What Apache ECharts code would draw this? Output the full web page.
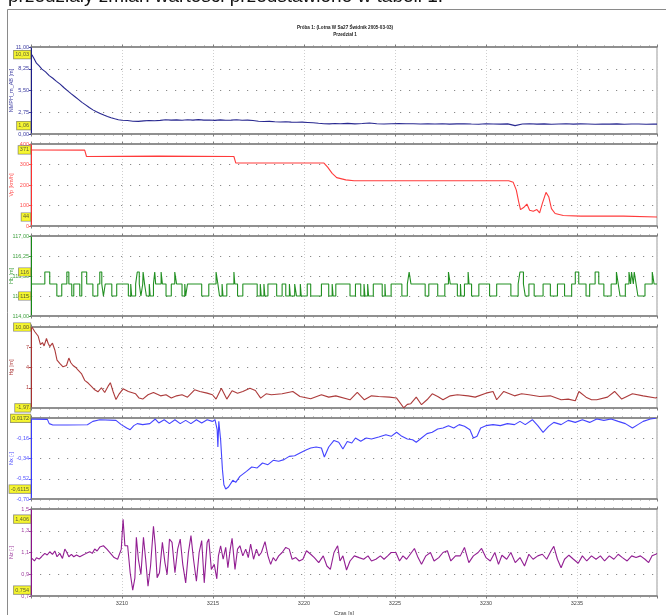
<!DOCTYPE html>
<html><head><meta charset="utf-8">
<script src="https://cdn.jsdelivr.net/npm/echarts@6/dist/echarts.min.js"></script>
<style>html,body{margin:0;padding:0;background:#fff;}#c{width:666px;height:615px;}</style>
</head><body><div id="c"></div>
<script>
// ---------- DATA ----------
const headerText = 'przedziały zmian wartości przedstawiono w tabeli 1.';
const titleLine1 = 'Próba 1: (Lotna W Sa27 Świdnik 2005-03-03)';
const titleLine2 = 'Przedział 1';
const xAxisName = 'Czas [s]';
const timeMin = 3205, timeMax = 3239.4, timeStep = 5;

const panelNames = ['NMPH_m_AB [m]', 'Vp [km/h]', 'Hb [m]', 'Hg [m]', 'Nx [-]', 'Nz [-]'];

// Panel 1
const p1T = [3205.05,3205.15,3205.3,3205.45,3205.6,3205.8,3206.0,3206.2,3206.4,3206.6,3206.8,3207.0,3207.2,3207.4,3207.6,3207.8,3208.0,3208.2,3208.4,3208.6,3208.8,3209.0,3209.2,3209.4,3209.6,3209.8,3210.0,3210.3,3210.6,3210.9,3211.2,3211.5,3211.8,3212.1,3212.4,3212.7,3213.0,3213.3,3213.6,3213.9,3214.2,3214.5,3214.8,3215.1,3215.4,3215.7,3216.0,3216.3,3216.6,3216.9,3217.2,3217.5,3217.8,3218.1,3218.4,3218.7,3219.0,3219.3,3219.6,3219.9,3220.2,3220.5,3220.8,3221.1,3221.4,3221.7,3222.0,3222.4,3222.8,3223.2,3223.6,3224.0,3224.4,3224.8,3225.2,3225.6,3226.0,3226.4,3226.8,3227.2,3227.6,3228.0,3228.4,3228.8,3229.2,3229.6,3230.0,3230.4,3230.8,3231.2,3231.6,3232.0,3232.4,3232.8,3233.2,3233.6,3234.0,3234.4,3234.8,3235.2,3235.6,3236.0,3236.4,3236.8,3237.2,3237.6,3238.0,3238.4,3238.8,3239.2,3239.4];
const p1V = [10.03,9.6,8.95,8.6,8.2,7.85,7.38,7.05,6.66,6.3,5.88,5.48,5.1,4.74,4.38,4.0,3.68,3.35,3.05,2.8,2.6,2.4,2.22,2.06,1.92,1.8,1.74,1.7,1.62,1.6,1.66,1.7,1.68,1.72,1.8,1.75,1.78,1.74,1.8,1.76,1.82,1.75,1.77,1.72,1.78,1.74,1.76,1.8,1.73,1.75,1.7,1.62,1.58,1.6,1.55,1.52,1.55,1.5,1.48,1.5,1.46,1.42,1.35,1.3,1.28,1.32,1.3,1.34,1.28,1.32,1.4,1.3,1.27,1.3,1.32,1.29,1.3,1.26,1.3,1.27,1.3,1.25,1.28,1.3,1.26,1.24,1.3,1.27,1.25,1.28,1.06,1.26,1.29,1.25,1.28,1.24,1.27,1.3,1.25,1.28,1.26,1.24,1.27,1.25,1.28,1.24,1.26,1.27,1.24,1.26,1.25];

// Panel 2
const p2T = [3205.05,3207.95,3208.05,3212.0,3216.15,3216.25,3221.1,3221.3,3221.55,3221.8,3222.3,3222.75,3231.25,3231.5,3231.67,3231.8,3231.9,3232.07,3232.25,3232.4,3232.6,3232.8,3232.95,3233.1,3233.3,3233.45,3233.6,3233.8,3234.25,3235.2,3237.55,3239.4];
const p2V = [371,370,339,341,339,308,307,287,257,236,225,221,221,213,175,118,80,90,107,77,72,80,64,110,164,143,85,61,51,48,48,44];

// Panel 3 (step signal: value holds until next time)
const p3T = [3205.05,3205.76,3206.03,3206.42,3206.69,3206.97,3207.08,3207.24,3207.35,3207.68,3207.79,3208.06,3208.4,3208.67,3208.78,3208.89,3208.98,3209.08,3209.44,3209.71,3210.35,3210.48,3210.53,3210.75,3210.84,3210.95,3211.04,3211.14,3211.16,3211.24,3211.34,3211.5,3211.55,3211.73,3211.8,3211.85,3212.15,3212.22,3212.42,3212.71,3212.9,3213.0,3213.3,3213.45,3213.5,3213.6,3214.38,3214.77,3215.17,3215.27,3215.36,3215.5,3215.55,3215.76,3216.15,3216.2,3216.35,3216.64,3217.43,3217.6,3217.65,3217.8,3217.85,3218.02,3218.5,3218.8,3219.0,3219.2,3219.25,3219.49,3219.59,3219.8,3219.85,3220.18,3220.37,3220.96,3221.36,3221.55,3221.6,3221.75,3222.53,3222.83,3223.12,3223.3,3223.35,3223.5,3223.55,3223.81,3224.3,3224.45,3224.48,3224.79,3225.38,3225.68,3225.78,3225.88,3226.66,3226.86,3227.35,3227.74,3227.94,3228.04,3228.43,3228.6,3228.63,3228.82,3229.02,3229.07,3229.21,3229.61,3230.2,3230.59,3231.37,3231.77,3231.87,3232.06,3232.16,3232.36,3232.65,3233.14,3233.54,3233.93,3234.32,3234.71,3234.91,3235.1,3235.5,3235.7,3236.0,3236.2,3236.48,3236.88,3237.17,3237.27,3237.37,3237.66,3237.86,3237.95,3238.0,3238.1,3238.15,3238.25,3238.35,3238.74,3239.14,3239.24,3239.4];
const p3V = [115.2,115.65,115.2,114.75,115.2,115.65,115.2,114.75,115.2,114.75,115.65,115.2,114.75,115.2,115.65,115.2,114.75,115.2,114.75,115.2,114.75,115.2,114.75,115.2,115.65,115.2,114.75,115.2,115.65,115.2,114.75,115.2,114.75,115.2,115.65,115.2,115.65,115.2,114.75,115.2,115.65,115.2,114.75,115.2,114.75,115.2,114.75,115.2,115.65,115.2,114.75,115.2,114.75,115.2,115.65,115.2,114.75,115.2,114.75,115.2,114.75,115.2,114.75,115.2,114.75,115.2,114.75,115.2,114.75,115.2,114.75,115.2,114.75,115.2,114.75,115.2,114.75,115.2,114.75,115.2,114.75,115.2,114.75,115.2,114.75,115.2,114.75,115.2,114.75,115.2,114.75,115.2,114.75,115.2,115.65,115.2,114.75,115.2,114.75,115.2,115.65,115.2,114.75,115.2,114.75,115.2,115.65,115.2,114.75,115.2,114.75,115.2,114.75,115.2,115.65,115.2,114.75,115.2,114.75,115.2,114.75,115.2,114.75,115.2,115.65,115.2,114.75,115.2,115.65,115.2,114.75,115.2,115.65,115.2,114.75,115.2,115.65,115.2,115.65,115.2,115.65,115.2,114.75,115.2,115.65,115.2,115.2];

// Panel 4
const p4T = [3205.05,3205.21,3205.3,3205.39,3205.52,3205.63,3205.72,3205.85,3205.94,3206.03,3206.18,3206.31,3206.43,3206.58,3206.76,3206.95,3207.08,3207.19,3207.31,3207.46,3207.59,3207.77,3207.95,3208.14,3208.32,3208.5,3208.68,3208.87,3209.05,3209.23,3209.36,3209.51,3209.67,3209.85,3210.06,3210.35,3210.75,3210.94,3211.14,3211.43,3211.73,3212.12,3212.42,3212.71,3213.0,3213.3,3213.6,3213.99,3214.28,3214.68,3214.97,3215.17,3215.46,3215.76,3216.05,3216.35,3216.64,3217.03,3217.33,3217.62,3217.92,3218.21,3218.8,3219.39,3219.78,3220.37,3220.96,3221.36,3221.75,3222.53,3222.93,3223.32,3223.71,3224.11,3224.7,3225.09,3225.48,3225.68,3225.87,3226.17,3226.46,3226.76,3227.05,3227.35,3227.64,3228.04,3228.43,3229.02,3229.41,3230.0,3230.39,3230.59,3230.98,3231.57,3231.96,3232.36,3232.95,3233.54,3234.13,3234.52,3234.91,3235.11,3235.5,3235.8,3236.09,3236.68,3237.07,3237.46,3238.05,3238.64,3239.33,3239.4];
const p4V = [10.0,9.3,9.5,8.67,7.4,7.7,7.2,8.3,7.6,7.1,7.6,6.6,5.1,4.6,4.1,4.3,5.4,4.7,4.3,4.0,3.6,3.1,2.1,1.7,1.2,0.7,0.4,1.0,0.3,1.2,1.75,0.45,-0.75,0.1,0.84,0.45,0.1,-0.53,-0.68,-0.04,0.3,-0.2,-0.04,-0.53,-0.2,-0.04,-0.39,0.69,0.45,0.2,-0.04,-0.68,0.94,-0.68,0.55,0.2,0.45,0.94,0.6,-0.53,0.1,-0.04,0.1,0.45,-0.29,-0.63,-0.04,-0.39,-0.2,-0.78,0.3,-0.78,-0.2,-0.29,-0.39,-0.53,-1.97,-1.46,-1.36,-0.39,-1.51,-0.78,0.1,-0.29,-0.78,-0.2,-0.04,-0.2,-0.39,0.2,0.45,-0.78,0.45,-0.2,0.1,-0.04,-0.29,-0.2,-0.78,-0.68,-0.93,0.45,-0.39,-0.78,-0.78,-0.39,0.45,-0.68,0.1,-0.2,-0.53,-0.4];

// Panel 5
const p5T = [3205.05,3205.9,3206.0,3206.2,3207.0,3208.1,3208.4,3208.78,3209.67,3209.96,3210.26,3210.45,3210.65,3210.84,3211.14,3211.53,3211.83,3212.02,3212.32,3212.61,3212.91,3213.2,3213.5,3213.79,3214.09,3214.38,3214.68,3214.97,3215.11,3215.23,3215.27,3215.32,3215.42,3215.52,3215.6,3215.7,3215.85,3216.09,3216.25,3216.48,3216.84,3217.13,3217.43,3217.72,3218.02,3218.31,3218.61,3218.9,3219.19,3219.49,3219.78,3220.08,3220.37,3220.67,3220.96,3221.12,3221.36,3221.65,3221.91,3222.14,3222.38,3222.63,3222.83,3223.12,3223.42,3223.71,3224.11,3224.5,3224.79,3225.09,3225.38,3225.68,3225.97,3226.17,3226.46,3226.76,3227.05,3227.35,3227.64,3227.94,3228.23,3228.53,3228.82,3229.12,3229.31,3229.51,3229.71,3230.0,3230.39,3230.79,3231.18,3231.57,3231.87,3232.16,3232.55,3232.85,3233.14,3233.44,3233.73,3234.13,3234.52,3234.91,3235.3,3235.7,3236.09,3236.48,3236.88,3237.27,3237.66,3238.05,3238.35,3238.64,3239.04,3239.33];
const p5V = [0.01,0.008,-0.03,-0.042,-0.042,-0.04,-0.01,0.005,-0.001,-0.039,-0.069,-0.084,-0.048,-0.03,-0.039,-0.03,0.011,-0.024,0.005,-0.03,0.005,-0.03,-0.001,-0.03,0.005,-0.024,0.005,-0.01,0.005,-0.084,-0.238,-0.01,-0.173,-0.439,-0.573,-0.6115,-0.593,-0.534,-0.552,-0.499,-0.454,-0.416,-0.424,-0.38,-0.395,-0.356,-0.365,-0.35,-0.321,-0.315,-0.291,-0.267,-0.247,-0.238,-0.247,-0.327,-0.238,-0.179,-0.196,-0.256,-0.188,-0.202,-0.158,-0.187,-0.158,-0.167,-0.149,-0.128,-0.143,-0.107,-0.143,-0.167,-0.173,-0.196,-0.158,-0.119,-0.107,-0.078,-0.069,-0.048,-0.069,-0.039,-0.054,-0.084,-0.158,-0.143,-0.069,-0.048,-0.039,-0.048,-0.03,-0.039,-0.01,-0.039,0.005,-0.048,-0.107,-0.054,-0.019,-0.039,-0.001,-0.019,0.005,-0.019,0.011,-0.001,0.011,-0.01,-0.03,-0.069,-0.039,-0.01,0.011,0.0172];

// Panel 6
const p6T = [3205.05,3205.19,3205.3,3205.45,3205.58,3205.76,3205.89,3206.03,3206.18,3206.31,3206.43,3206.58,3206.73,3206.86,3206.95,3207.08,3207.22,3207.35,3207.5,3207.68,3207.86,3208.04,3208.23,3208.37,3208.5,3208.63,3208.78,3208.98,3209.17,3209.57,3209.76,3209.96,3210.06,3210.16,3210.31,3210.45,3210.59,3210.71,3210.79,3210.9,3211.04,3211.18,3211.3,3211.43,3211.57,3211.73,3211.83,3211.93,3212.06,3212.22,3212.36,3212.48,3212.61,3212.75,3212.91,3213.06,3213.2,3213.34,3213.5,3213.65,3213.79,3213.93,3214.09,3214.24,3214.38,3214.52,3214.68,3214.77,3214.91,3215.07,3215.21,3215.3,3215.42,3215.56,3215.7,3215.82,3215.95,3216.05,3216.21,3216.35,3216.48,3216.64,3216.8,3216.94,3217.07,3217.23,3217.39,3217.52,3217.66,3217.86,3218.02,3218.17,3218.31,3218.45,3218.61,3218.8,3219.0,3219.19,3219.35,3219.55,3219.74,3219.94,3220.14,3220.37,3220.57,3220.81,3221.06,3221.26,3221.45,3221.65,3221.85,3221.98,3222.14,3222.34,3222.53,3222.77,3223.03,3223.28,3223.52,3223.71,3223.95,3224.2,3224.4,3224.6,3224.79,3225.05,3225.25,3225.44,3225.64,3225.84,3226.07,3226.27,3226.46,3226.7,3226.95,3227.15,3227.41,3227.64,3227.88,3228.07,3228.33,3228.59,3228.82,3229.06,3229.31,3229.57,3229.76,3230.0,3230.24,3230.49,3230.69,3230.88,3231.14,3231.37,3231.61,3231.87,3232.12,3232.36,3232.59,3232.85,3233.1,3233.34,3233.58,3233.73,3233.93,3234.13,3234.32,3234.56,3234.81,3235.07,3235.3,3235.54,3235.8,3236.05,3236.29,3236.52,3236.78,3237.03,3237.27,3237.5,3237.76,3238.01,3238.25,3238.49,3238.74,3238.94,3239.13,3239.33,3239.4];
const p6V = [1.046,1.022,1.052,1.04,1.061,1.092,1.077,1.107,1.083,1.114,1.061,1.092,1.046,1.132,1.107,1.061,1.083,1.061,1.077,1.061,1.077,1.092,1.107,1.092,1.132,1.114,1.15,1.162,1.131,1.053,1.038,1.131,1.406,1.162,1.162,0.914,0.754,0.867,1.24,1.038,0.898,1.24,1.038,0.79,0.976,1.342,1.162,0.867,0.914,1.193,1.007,0.898,1.224,1.193,0.914,1.131,1.224,0.991,0.821,1.1,1.255,1.038,0.836,1.1,1.209,0.821,1.193,1.224,0.945,0.991,0.858,1.069,1.162,1.038,1.147,0.96,1.131,1.23,0.945,1.131,1.162,1.069,1.131,1.053,1.178,1.038,1.131,1.069,1.1,1.2,1.069,0.991,1.053,1.022,1.069,1.1,1.147,1.131,1.038,1.053,1.022,1.038,1.116,1.084,1.053,1.007,1.069,0.976,0.945,1.1,1.162,1.022,1.069,0.939,1.022,1.069,1.053,1.038,1.069,1.022,1.038,1.069,1.038,1.069,1.1,1.1,1.022,1.069,1.038,1.084,1.137,1.053,0.991,1.069,1.1,1.022,1.053,1.1,1.116,1.022,1.069,1.069,1.147,1.007,1.069,1.1,1.137,1.053,1.022,1.1,0.991,1.075,1.038,1.1,1.007,1.053,0.976,1.084,1.038,1.069,1.084,1.038,1.116,1.156,1.038,0.96,1.038,1.075,1.038,1.001,1.069,1.022,1.069,1.038,1.069,1.022,1.069,1.038,1.084,1.053,1.022,1.069,1.053,1.069,1.038,1.007,1.069,1.084,1.09];

// ---------- STYLE / LAYOUT ----------
const panels = [
  {t:p1T, v:p1V, name:panelNames[0], color:'#1c1c8a', lab:'#3a3aa0', min:0, max:11, interval:2.75, ydec:2, mdec:2, top:47, h:87},
  {t:p2T, v:p2V, name:panelNames[1], color:'#ff3030', lab:'#ff5050', min:0, max:400, interval:100, ydec:0, mdec:0, top:144, h:82},
  {t:p3T, v:p3V, name:panelNames[2], color:'#168a16', lab:'#40a040', min:114, max:117, interval:0.75, ydec:2, mdec:0, top:236, h:80, step:true},
  {t:p4T, v:p4V, name:panelNames[3], color:'#a83030', lab:'#b04040', min:-2, max:10, interval:3, ydec:0, mdec:2, top:327, h:81},
  {t:p5T, v:p5V, name:panelNames[4], color:'#3a3aff', lab:'#5050ff', min:-0.70, max:0.02, interval:0.18, ydec:2, mdec:4, top:418, h:81},
  {t:p6T, v:p6V, name:panelNames[5], color:'#8c128c', lab:'#a040a0', min:0.7, max:1.5, interval:0.2, ydec:1, mdec:3, top:509, h:87}
];
const FONT = '"Liberation Sans Narrow","Liberation Sans",Arial,sans-serif';
const fmt = (v, d) => Number(v).toFixed(d).replace('.', ',');
const GL = 31, GR = 9;

const grid = [], xAxis = [], yAxis = [], series = [];
panels.forEach((p, i) => {
  grid.push({left: GL, right: GR, top: p.top, height: p.h, show: true, borderColor: '#9a9a9a', borderWidth: 1,
    backgroundColor: 'transparent', containLabel: false, outerBoundsMode: 'none'});
  const isLast = i === panels.length - 1;
  xAxis.push({
    gridIndex: i, type: 'value', min: timeMin, max: timeMax, interval: timeStep, position: 'bottom',
    axisLine: {onZero: false, lineStyle: {color: '#7c7c7c', width: 1.6}},
    axisTick: {show: true, length: 2.5, lineStyle: {color: '#7c7c7c', width: 1}},
    minorTick: {show: true, splitNumber: 10, length: 1.5, lineStyle: {color: '#8c8c8c', width: 1}},
    axisLabel: {show: isLast, fontSize: 5.5, color: '#444', fontFamily: FONT, margin: 4, showMinLabel: false, showMaxLabel: false,
      formatter: v => String(Math.round(v))},
    splitLine: {show: true, lineStyle: {color: '#cfcfcf', type: [1, 2], width: 1}},
    name: isLast ? xAxisName : '', nameLocation: 'middle', nameGap: 14, nameMoveOverlap: false,
    nameTextStyle: {fontSize: 5.5, color: '#444', fontFamily: FONT}
  });
  xAxis.push({
    gridIndex: i, type: 'value', min: timeMin, max: timeMax, interval: timeStep, position: 'top',
    axisLine: {onZero: false, lineStyle: {color: '#7c7c7c', width: 1.6}},
    axisTick: {show: true, length: 2.5, lineStyle: {color: '#7c7c7c', width: 1}},
    minorTick: {show: true, splitNumber: 10, length: 1.5, lineStyle: {color: '#8c8c8c', width: 1}},
    axisLabel: {show: false}, splitLine: {show: false}
  });
  yAxis.push({
    gridIndex: i, type: 'value', min: p.min, max: p.max, interval: p.interval, position: 'left',
    axisLine: {show: true, onZero: false, lineStyle: {color: p.color, width: 1}},
    axisTick: {show: true, length: 2, lineStyle: {color: p.lab}},
    axisLabel: {fontSize: 5.5, color: p.lab, fontFamily: FONT, margin: 2, formatter: v => fmt(v, p.ydec)},
    splitLine: {show: true, showMinLine: false, showMaxLine: false, lineStyle: {color: '#8a8a8a', type: [1.2, 7.8], width: 1.2}},
    name: p.name, nameLocation: 'middle', nameRotate: 90, nameGap: 17, nameMoveOverlap: false,
    nameTextStyle: {fontSize: 5.5, color: p.lab, fontFamily: FONT}
  });
  const data = p.t.map((t, k) => [t, p.v[k]]);
  series.push({
    type: 'line', xAxisIndex: 2 * i, yAxisIndex: i, data: data, showSymbol: false, symbol: 'none',
    step: p.step ? 'end' : false, sampling: false, animation: false,
    lineStyle: {color: p.color, width: 1.1, opacity: 0.95}, z: 3
  });
  const vMax = Math.max(...p.v), vMin = Math.min(...p.v);
  series.push({
    type: 'scatter', xAxisIndex: 2 * i, yAxisIndex: i, symbolSize: 0, clip: false, animation: false, z: 10,
    data: [[timeMin, vMax], [timeMin, vMin]],
    label: {show: true, position: 'left', distance: 0.5, formatter: q => fmt(q.value[1], p.mdec),
      fontSize: 5.5, fontFamily: FONT, color: '#333', backgroundColor: '#f4f400',
      borderColor: '#666', borderWidth: 0.6, padding: [1.5, 1.5, 0.5, 1.5]}
  });
});

const chart = echarts.init(document.getElementById('c'), null, {renderer: 'canvas'});
chart.setOption({
  backgroundColor: '#ffffff',
  animation: false,
  grid, xAxis, yAxis, series,
  graphic: [
    {type: 'text', left: 8, top: -13, style: {text: headerText, font: '19px "Liberation Sans", Arial, sans-serif', fill: '#111'}},
    {type: 'line', shape: {x1: 7.5, y1: 9.5, x2: 666, y2: 9.5}, style: {stroke: '#8a8a8a', lineWidth: 1}},
    {type: 'line', shape: {x1: 7.5, y1: 9.5, x2: 7.5, y2: 615}, style: {stroke: '#8a8a8a', lineWidth: 1}},
    {type: 'text', x: 345, y: 28, style: {text: titleLine1, font: 'bold 4.6px ' + FONT, fill: '#222', align: 'center', verticalAlign: 'middle'}},
    {type: 'text', x: 345, y: 34.5, style: {text: titleLine2, font: 'bold 4.6px ' + FONT, fill: '#222', align: 'center', verticalAlign: 'middle'}}
  ]
});
</script>
</body></html>
